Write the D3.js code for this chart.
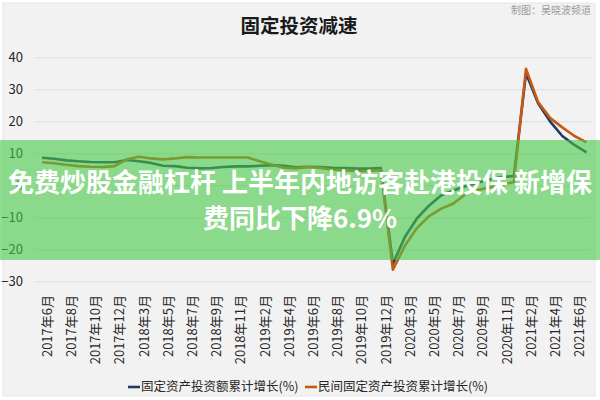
<!DOCTYPE html>
<html>
<head>
<meta charset="utf-8">
<script src="https://cdn.jsdelivr.net/npm/d3@7"></script>
<style>
  body { margin: 0; background: #ffffff; }
  svg { font-family: "Noto Sans CJK SC", "Noto Sans", sans-serif; }
</style>
</head>
<body>
<div id="graph"></div>
<script>
// categories: one entry per month reported (Jan and Feb come out together)
const months = [
  "2017年6月", "2017年7月", "2017年8月", "2017年9月", "2017年10月", "2017年11月", "2017年12月",
  "2018年2月", "2018年3月", "2018年4月", "2018年5月", "2018年6月", "2018年7月", "2018年8月",
  "2018年9月", "2018年10月", "2018年11月", "2018年12月",
  "2019年2月", "2019年3月", "2019年4月", "2019年5月", "2019年6月", "2019年7月", "2019年8月",
  "2019年9月", "2019年10月", "2019年11月", "2019年12月",
  "2020年2月", "2020年3月", "2020年4月", "2020年5月", "2020年6月", "2020年7月", "2020年8月",
  "2020年9月", "2020年10月", "2020年11月", "2020年12月",
  "2021年2月", "2021年3月", "2021年4月", "2021年5月", "2021年6月", "2021年7月"
];

// 固定资产投资额累计增长(%)
const totalGrowth = [
  8.6, 8.3, 7.8, 7.5, 7.3, 7.2, 7.2,
  7.9, 7.5, 7.0, 6.1, 6.0, 5.5, 5.3, 5.4, 5.7, 5.9, 5.9,
  6.1, 6.3, 6.1, 5.6, 5.8, 5.7, 5.5, 5.4, 5.2, 5.2, 5.4,
  -24.5, -16.1, -10.3, -6.3, -3.1, -1.6, -0.3, 0.8, 1.8, 2.6, 2.9,
  35.0, 25.6, 19.9, 15.4, 12.6, 10.3
];

// 民间固定资产投资累计增长(%)
const privateGrowth = [
  7.2, 6.9, 6.4, 6.0, 5.8, 5.7, 6.0,
  8.1, 8.9, 8.4, 8.1, 8.4, 8.8, 8.7, 8.7, 8.7, 8.7, 8.7,
  7.5, 6.4, 5.5, 5.3, 5.7, 5.4, 4.9, 4.7, 4.4, 4.5, 4.7,
  -26.4, -18.8, -13.3, -9.6, -7.3, -5.7, -2.8, -1.5, -0.7, 0.2, 1.0,
  36.4, 26.0, 21.0, 18.1, 15.4, 13.4
];

// labels actually printed under the axis
const tickLabels = [
  "2017年6月", "2017年8月", "2017年10月", "2017年12月", "2018年3月", "2018年5月",
  "2018年7月", "2018年9月", "2018年11月", "2019年2月", "2019年4月", "2019年6月",
  "2019年8月", "2019年10月", "2019年12月", "2020年3月", "2020年5月", "2020年7月",
  "2020年9月", "2020年11月", "2021年2月", "2021年4月", "2021年6月"
];

const yTicks = [40, 30, 20, 10, 0, -10, -20, -30];

const seriesNames = ["固定资产投资额累计增长(%)", "民间固定资产投资累计增长(%)"];
const seriesColors = ["#203a63", "#c55a11"];

const svgWidth = 600;
const svgHeight = 400;

const svg = d3
  .select("#graph")
  .append("svg")
  .attr("width", svgWidth)
  .attr("height", svgHeight);

// panel
svg
  .append("rect")
  .attr("x", 3)
  .attr("y", 3)
  .attr("width", 592)
  .attr("height", 393)
  .attr("fill", "#f2f2f2")
  .attr("stroke", "#e6e6e6");

const xScale = d3
  .scalePoint()
  .domain(months)
  .range([42, 586.5]);

const yScale = d3
  .scaleLinear()
  .domain([-30, 40])
  .range([281.3, 57.3]);

// grid + y labels
const yAxis = svg
  .append("g")
  .attr("transform", "translate(35,0)")
  .call(d3.axisLeft(yScale).tickValues(yTicks).tickSize(-556).tickPadding(12));

yAxis.select(".domain").remove();
yAxis.selectAll(".tick line").attr("stroke", "#dcdcdc").attr("stroke-width", 1);
yAxis
  .selectAll(".tick text")
  .attr("fill", "#262626")
  .attr("font-size", 13)
  .attr("font-family", "'Noto Sans CJK SC', sans-serif");

// x labels, rotated
const xAxis = svg
  .append("g")
  .attr("transform", "translate(0,295)")
  .call(d3.axisBottom(xScale).tickValues(tickLabels).tickSize(0).tickPadding(0));

xAxis.select(".domain").remove();
xAxis
  .selectAll(".tick text")
  .attr("fill", "#262626")
  .attr("font-size", 13)
  .attr("font-family", "'Noto Sans CJK SC', sans-serif")
  .attr("text-anchor", "end")
  .attr("transform", "rotate(-90)")
  .attr("x", 0)
  .attr("y", 0)
  .attr("dy", "0.72em");

// the two lines
const lineData = [totalGrowth, privateGrowth];
lineData.forEach((values, i) => {
  svg
    .append("path")
    .datum(values)
    .attr("fill", "none")
    .attr("stroke", seriesColors[i])
    .attr("stroke-width", 2.6)
    .attr("stroke-linejoin", "round")
    .attr(
      "d",
      d3
        .line()
        .x((d, k) => xScale(months[k]))
        .y((d) => yScale(d))
    );
});

// title and credit
svg
  .append("text")
  .attr("x", 299)
  .attr("y", 33)
  .attr("text-anchor", "middle")
  .attr("font-size", 19.5)
  .attr("font-weight", "bold")
  .attr("fill", "#1a1a1a")
  .text("固定投资减速");

svg
  .append("text")
  .attr("x", 591)
  .attr("y", 14)
  .attr("text-anchor", "end")
  .attr("font-size", 10)
  .attr("fill", "#9a9a9a")
  .text("制图：吴晓波频道");

// legend
const legend = svg.append("g").attr("transform", "translate(0,387)");
const legendX = [128, 305];
seriesNames.forEach((name, i) => {
  legend
    .append("line")
    .attr("x1", legendX[i])
    .attr("x2", legendX[i] + 12)
    .attr("y1", 0)
    .attr("y2", 0)
    .attr("stroke", seriesColors[i])
    .attr("stroke-width", 2.6);
  legend
    .append("text")
    .attr("x", legendX[i] + 13)
    .attr("y", 0)
    .attr("dy", "0.35em")
    .attr("font-size", 12.5)
    .attr("fill", "#262626")
    .text(name);
});

// green banner laid over the chart
svg
  .append("rect")
  .attr("x", 0)
  .attr("y", 140)
  .attr("width", svgWidth)
  .attr("height", 120)
  .attr("fill", "rgb(70,200,70)")
  .attr("opacity", 0.6);

const bannerLines = ["免费炒股金融杠杆 上半年内地访客赴港投保 新增保", "费同比下降6.9%"];
bannerLines.forEach((t, i) => {
  svg
    .append("text")
    .attr("x", 300)
    .attr("y", 192 + i * 36)
    .attr("text-anchor", "middle")
    .attr("font-size", 26)
    .attr("font-weight", "bold")
    .attr("fill", "#ffffff")
    .text(t);
});
</script>
</body>
</html>
